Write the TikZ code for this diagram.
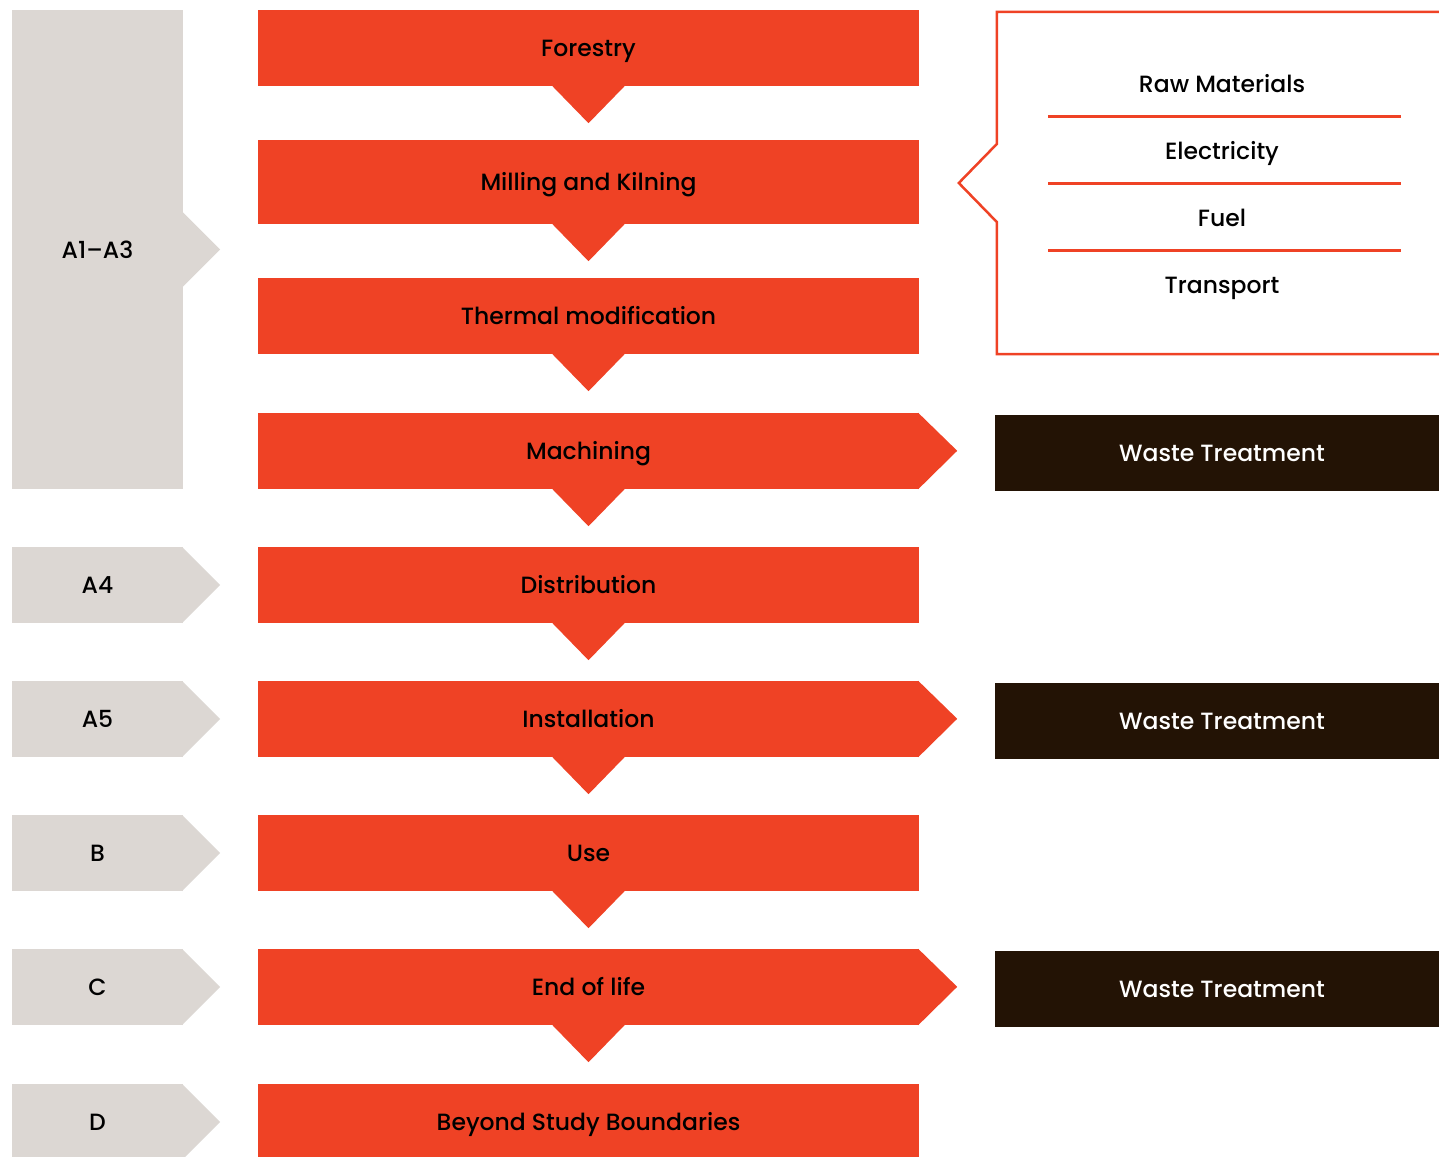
\documentclass[tikz,border=0pt]{standalone}
\usepackage{fontspec}
\setmainfont{Poppins}[UprightFont={* Medium}]
\usetikzlibrary{calc}
\definecolor{stagered}{HTML}{EF4225}
\definecolor{phasegray}{HTML}{DCD7D3}
\definecolor{wastebrown}{HTML}{231305}
\begin{document}
\begin{tikzpicture}[x=1pt,y=-1pt,
  every node/.style={inner sep=0,text height=17pt,text depth=0pt,font=\fontsize{23.5}{27}\selectfont},
  stagebox/.style={fill=stagered,minimum width=661,minimum height=76},
  phasebox/.style={fill=phasegray,minimum width=171,minimum height=76},
  wastebox/.style={fill=wastebrown,text=white,minimum width=454,minimum height=76}]
\useasboundingbox (0,0) rectangle (1439,1156);
% life-cycle stages
\node[stagebox] (forestry) at (588.5,48) {Forestry};
\node[stagebox,minimum height=84] (milling) at (588.5,182) {Milling and Kilning};
\node[stagebox] (thermal) at (588.5,316) {Thermal modification};
\node[stagebox] (machining) at (588.5,451) {Machining};
\node[stagebox] (distribution) at (588.5,585) {Distribution};
\node[stagebox] (installation) at (588.5,719) {Installation};
\node[stagebox] (use) at (588.5,853) {Use};
\node[stagebox] (endoflife) at (588.5,987) {End of life};
\node[stagebox] (beyond) at (588.5,1122) {Beyond Study Boundaries};
\foreach \n in {forestry,milling,thermal,machining,distribution,installation,use,endoflife}
  \fill[stagered] (\n.south) ++(-37,-1) -- ++(74,0) -- ++(-37,38) -- cycle;
\foreach \n in {machining,installation,endoflife}
  \fill[stagered] ([xshift=-1pt]\n.north east) -- ++(39,38) -- ([xshift=-1pt]\n.south east) -- cycle;
% modules
\node[phasebox,minimum height=479] (a13) at (97.5,249.5) {A1–A3};
\node[phasebox] (a4) at (97.5,585) {A4};
\node[phasebox] (a5) at (97.5,719) {A5};
\node[phasebox] (b) at (97.5,853) {B};
\node[phasebox] (c) at (97.5,987) {C};
\node[phasebox] (d) at (97.5,1122) {D};
\foreach \n in {a13,a4,a5,b,c,d}
  \fill[phasegray] ([yshift=38pt,xshift=-1pt]\n.east) -- ++(38,38) -- ++(-38,38) -- cycle;
% inputs
\node[minimum width=460,minimum height=342] (inbox) at (1227,183) {};
\draw[stagered,line width=2.5pt] (inbox.north east) -- (inbox.north west)
  -- ([yshift=39pt]inbox.west) -- ([xshift=-38pt]inbox.west)
  -- ([yshift=-39pt]inbox.west) -- (inbox.south west) -- (inbox.south east);
\node (raw) at (1222,84) {Raw Materials};
\node (elec) at (1222,151) {Electricity};
\node (fuel) at (1222,218) {Fuel};
\node (transport) at (1222,285) {Transport};
\foreach \u/\v in {raw/elec,elec/fuel,fuel/transport}
  \draw[stagered,line width=2.5pt] ($(\u)!0.5!(\v)+(-174,-1)$) -- ++(353,0);
% outputs
\node[wastebox] (waste1) at (1222,453) {Waste Treatment};
\node[wastebox] (waste2) at (1222,721) {Waste Treatment};
\node[wastebox] (waste3) at (1222,989) {Waste Treatment};
\end{tikzpicture}
\end{document}
